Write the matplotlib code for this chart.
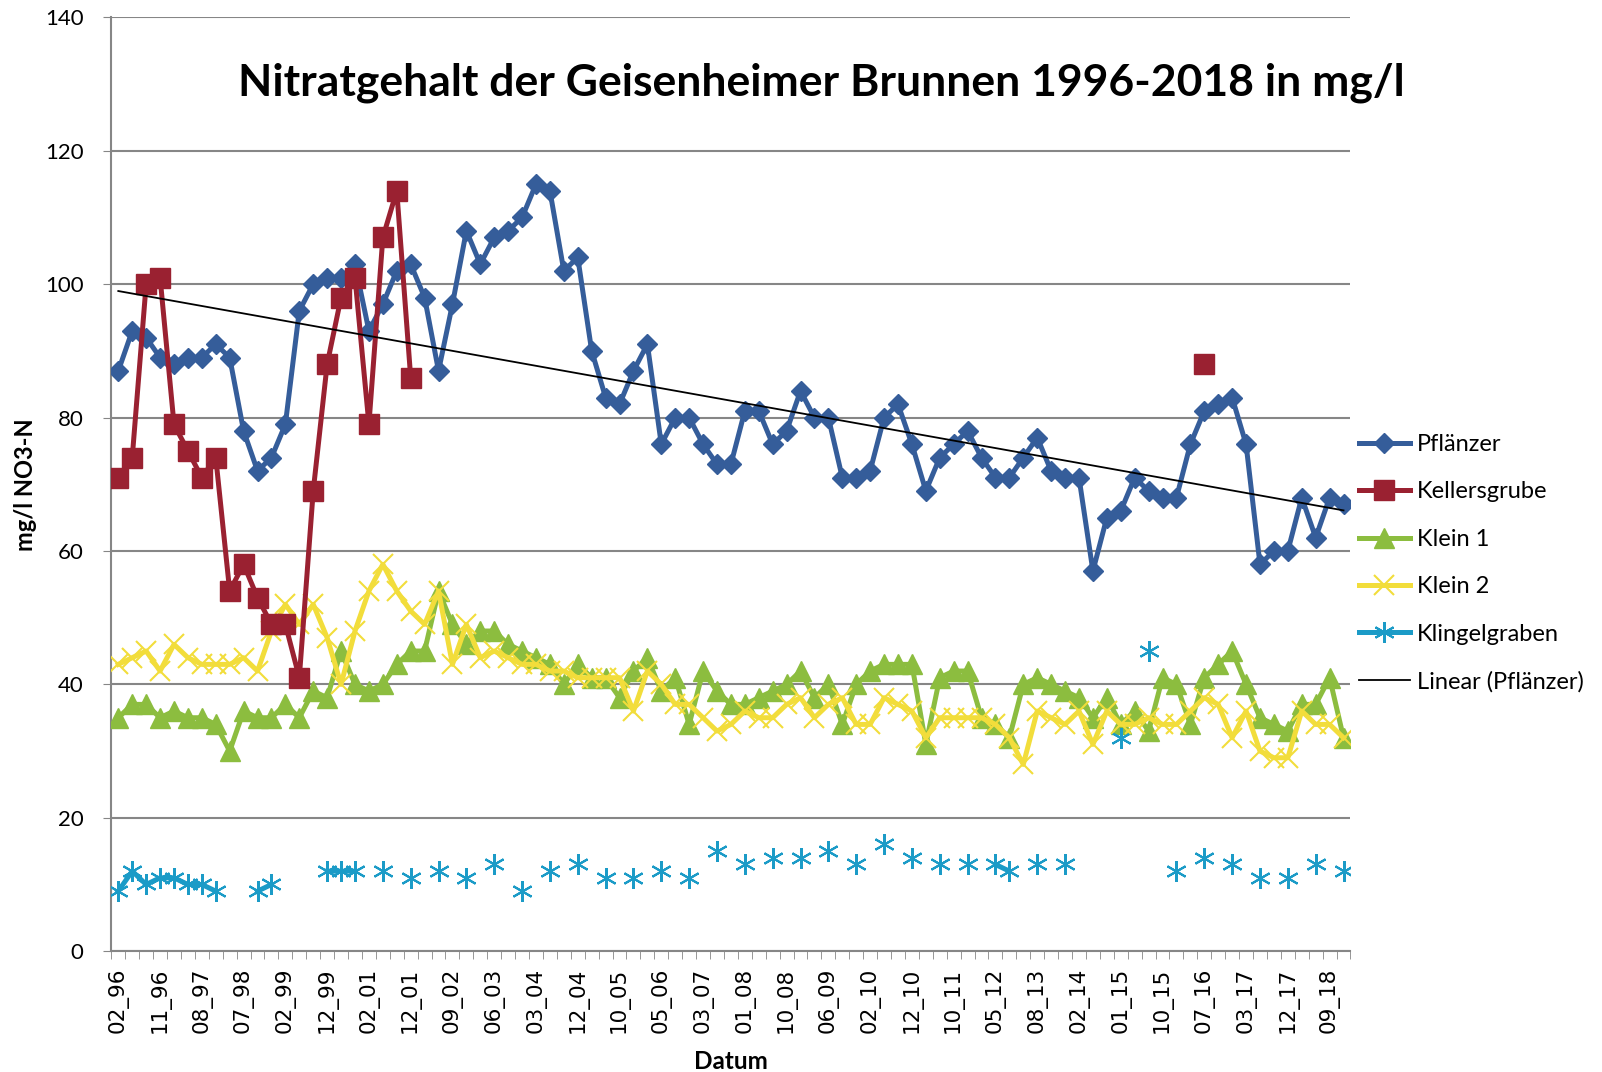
import numpy as np
import matplotlib
matplotlib.use("Agg")
from matplotlib import pyplot as plt

nan = np.nan

# tick labels (every third sample date is labelled)
tick_labels = ["02_96", "11_96", "08_97", "07_98", "02_99", "12_99", "02_01", "12_01",
               "09_02", "06_03", "03_04", "12_04", "10_05", "05_06", "03_07", "01_08",
               "10_08", "06_09", "02_10", "12_10", "10_11", "05_12", "08_13", "02_14",
               "01_15", "10_15", "07_16", "03_17", "12_17", "09_18"]
n_samples = 89

pflaenzer = [87, 93, 92, 89, 88, 89, 89, 91, 89, 78, 72, 74, 79, 96, 100, 101, 101, 103, 93, 97,
             102, 103, 98, 87, 97, 108, 103, 107, 108, 110, 115, 114, 102, 104, 90, 83, 82, 87,
             91, 76, 80, 80, 76, 73, 73, 81, 81, 76, 78, 84, 80, 80, 71, 71, 72, 80, 82, 76, 69,
             74, 76, 78, 74, 71, 71, 74, 77, 72, 71, 71, 57, 65, 66, 71, 69, 68, 68, 76, 81, 82,
             83, 76, 58, 60, 60, 68, 62, 68, 67]

kellersgrube = [71, 74, 100, 101, 79, 75, 71, 74, 54, 58, 53, 49, 49, 41, 69, 88, 98, 101, 79,
                107, 114, 86] + [nan] * 56 + [88] + [nan] * 10

klein1 = [35, 37, 37, 35, 36, 35, 35, 34, 30, 36, 35, 35, 37, 35, 39, 38, 45, 40, 39, 40, 43,
          45, 45, 54, 49, 46, 48, 48, 46, 45, 44, 43, 40, 43, 41, 41, 38, 42, 44, 39, 41, 34,
          42, 39, 37, 37, 38, 39, 40, 42, 38, 40, 34, 40, 42, 43, 43, 43, 31, 41, 42, 42, 35,
          34, 32, 40, 41, 40, 39, 38, 35, 38, 34, 36, 33, 41, 40, 34, 41, 43, 45, 40, 35, 34,
          33, 37, 37, 41, 32]

klein2 = [43, 44, 45, 42, 46, 44, 43, 43, 43, 44, 42, 48, 52, 49, 52, 47, 40, 48, 54, 58, 54,
          51, 49, 54, 43, 49, 44, 45, 44, 43, 43, 42, 42, 41, 41, 41, 41, 36, 42, 40, 37, 37,
          35, 33, 34, 36, 35, 35, 37, 38, 35, 37, 38, 34, 34, 38, 37, 36, 32, 35, 35, 35, 35,
          34, 32, 28, 36, 35, 34, 36, 31, 36, 34, 34, 35, 34, 34, 36, 38, 37, 32, 36, 30, 29,
          29, 36, 34, 34, 32]

klingel_idx = [0, 1, 2, 3, 4, 5, 6, 7, 10, 11, 15, 16, 17, 19, 21, 23, 25, 27, 29, 31, 33, 35,
               37, 39, 41, 43, 45, 47, 49, 51, 53, 55, 57, 59, 61, 63, 64, 66, 68, 72, 74, 76,
               78, 80, 82, 84, 86, 88]
klingel_val = [9, 12, 10, 11, 11, 10, 10, 9, 9, 10, 12, 12, 12, 12, 11, 12, 11, 13, 9, 12, 13,
               11, 11, 12, 11, 15, 13, 14, 14, 15, 13, 16, 14, 13, 13, 13, 12, 13, 13, 32, 45,
               12, 14, 13, 11, 11, 13, 12]

x = np.arange(n_samples)
klingelgraben = np.full(n_samples, nan)
klingelgraben[klingel_idx] = klingel_val

plt.rcParams['font.family'] = ['Lato', 'DejaVu Sans']

fig = plt.figure(figsize=(16.02, 10.72), dpi=100)
ax = fig.add_axes([0.0695, 0.1127, 0.7735, 0.8711])

c_pf = '#355D9A'
c_ke = '#9A2131'
c_k1 = '#8CBD3F'
c_k2 = '#F2DD3B'
c_kg = '#1B9BC7'

ax.plot(x, klein1, color=c_k1, lw=3.6, marker='^', ms=14, mec=c_k1, label='Klein 1', zorder=3)
ax.plot(x, klein2, color=c_k2, lw=3.6, marker='x', ms=15, mew=1.5, label='Klein 2', zorder=4)
ax.plot(x, klingelgraben, color=c_kg, lw=3.6, marker=(6, 2, 0), ms=15, mew=1.5, mec=c_kg,
        label='Klingelgraben', zorder=3)
ax.plot(x, pflaenzer, color=c_pf, lw=3.6, marker='D', ms=10.5, mec=c_pf, label='Pflänzer',
        zorder=5)
ax.plot(x, kellersgrube, color=c_ke, lw=3.6, marker='s', ms=14.5, mec=c_ke, label='Kellersgrube',
        zorder=6)

# linear trend of Pflänzer
coef = np.polyfit(x, pflaenzer, 1)
ax.plot(x, np.polyval(coef, x), color='black', lw=1.3, label='Linear (Pflänzer)', zorder=7)

ax.set_xlim(-0.5, n_samples - 0.5)
ax.set_ylim(0, 140)
ax.set_yticks(range(0, 141, 20))
ax.tick_params(axis='y', labelsize=16, length=6, color='#868686', pad=14)
ax.yaxis.grid(True, color='#868686', lw=1.5)
ax.set_axisbelow(True)

ax.set_xticks(np.arange(0, n_samples, 3))
ax.set_xticklabels(tick_labels, rotation=90, fontsize=15.5, family='DejaVu Sans')
ax.set_xticks(np.arange(-0.5, n_samples, 1), minor=True)
ax.tick_params(axis='x', which='major', length=0, pad=12)
ax.tick_params(axis='x', which='minor', length=6, color='#868686')

for side in ['top', 'right']:
    ax.spines[side].set_visible(False)
for side in ['left', 'bottom']:
    ax.spines[side].set_color('#868686')
    ax.spines[side].set_linewidth(1.5)

ax.set_ylabel('mg/l NO3-N', fontsize=17, fontweight='bold', labelpad=6)
ax.set_xlabel('Datum', fontsize=17.5, fontweight='bold', labelpad=12)

fig.text(0.5125, 0.923, 'Nitratgehalt der Geisenheimer Brunnen 1996-2018 in mg/l', ha='center',
         va='center', fontsize=32, fontweight='bold')

handles, labels = ax.get_legend_handles_labels()
order = [3, 4, 0, 1, 2, 5]
fig.legend([handles[i] for i in order], [labels[i] for i in order], loc='upper left',
           bbox_to_anchor=(0.835, 0.615), frameon=False, fontsize=17, handlelength=2.15,
           handletextpad=0.3, labelspacing=1.12)

fig.savefig('out.png', dpi=100)
